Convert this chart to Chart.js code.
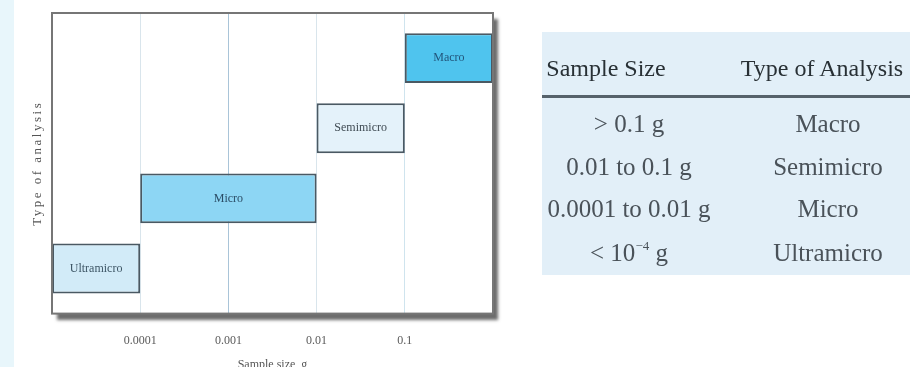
<!DOCTYPE html>
<html>
<head>
<meta charset="utf-8">
<script src="https://cdn.jsdelivr.net/npm/chart.js@4.4.1/dist/chart.umd.min.js"></script>
<style>
  html, body { margin: 0; padding: 0; width: 917px; height: 367px; overflow: hidden; background: #fff; }
  #strip { position: absolute; left: 0; top: 0; width: 14px; height: 367px; background: #e8f6fb; }
  #chartBox { position: absolute; left: 0; top: 0; width: 520px; height: 368px; }
  #sizeTable { position: absolute; left: 542px; top: 32px; width: 368px; height: 243px; background: #e2eff8;
    font-family: "Liberation Serif", serif; }
  #sizeTable .cell { position: absolute; width: 220px; text-align: center; white-space: nowrap; }
  #sizeTable .head { font-size: 24px; line-height: 24px; color: #283035; }
  #sizeTable .row { font-size: 25px; line-height: 25px; color: #4a5259; }
  #sizeTable sup { font-size: 13px; vertical-align: 0; position: relative; top: -11px; }
  #rule { position: absolute; left: 0; top: 63px; width: 368px; height: 3px; background: #56626b; }
</style>
</head>
<body>
<div id="strip"></div>
<div id="chartBox"><canvas id="rangeChart" width="520" height="368"></canvas></div>
<div id="sizeTable"><div id="rule"></div></div>

<script>
// Chart data (log x axis, one floating bar per type of analysis)
const categories = ['Ultramicro', 'Micro', 'Semimicro', 'Macro'];
const rangeStart = [0.00001, 0.0001, 0.01, 0.1];
const rangeEnd = [0.0001, 0.01, 0.1, 1];
const xTicks = [0.0001, 0.001, 0.01, 0.1];
const xTickLabels = ['0.0001', '0.001', '0.01', '0.1'];
const xTitle = 'Sample size, g';
const yTitle = 'Type of analysis';

// Table data
const tableHeaders = ['Sample Size', 'Type of Analysis'];
const sampleSizes = ['&gt; 0.1 g', '0.01 to 0.1 g', '0.0001 to 0.01 g', '&lt; 10<sup>−4</sup> g'];
const analysisTypes = ['Macro', 'Semimicro', 'Micro', 'Ultramicro'];

const barColors = ['#d2ebf8', '#8dd6f4', '#e4f2fa', '#4fc4ee'];
const labelColors = ['#3e5666', '#2b4d66', '#3f4b53', '#22567c'];
const gridColors = ['#d9e5ec', '#a9c4d8', '#d9e5ec', '#cfe4ee'];

// Build the table
const table = document.getElementById('sizeTable');
function addCell(html, cls, center, top) {
  const div = document.createElement('div');
  div.className = 'cell ' + cls;
  div.innerHTML = html;
  div.style.left = (center - 110) + 'px';
  div.style.top = top + 'px';
  table.appendChild(div);
}
addCell(tableHeaders[0], 'head', 64, 24);
addCell(tableHeaders[1], 'head', 280, 24);
const rowTops = [79, 122, 164, 208];
sampleSizes.forEach((s, i) => {
  addCell(s, 'row', 87, rowTops[i]);
  addCell(analysisTypes[i], 'row', 286, rowTops[i]);
});

// Frame with drop shadow around the plot area
const framePlugin = {
  id: 'frame',
  beforeDraw(chart) {
    const { ctx, chartArea: a } = chart;
    ctx.save();
    ctx.shadowColor = 'rgba(60, 60, 60, 0.75)';
    ctx.shadowOffsetX = 5;
    ctx.shadowOffsetY = 6;
    ctx.shadowBlur = 3;
    ctx.fillStyle = '#fff';
    ctx.fillRect(a.left, a.top, a.right - a.left, a.bottom - a.top);
    ctx.restore();
  },
  afterDatasetsDraw(chart) {
    const { ctx, chartArea: a } = chart;
    ctx.save();
    ctx.strokeStyle = '#767676';
    ctx.lineWidth = 2;
    ctx.strokeRect(a.left, a.top, a.right - a.left, a.bottom - a.top);
    ctx.restore();
  }
};

// Names written inside the bars
const barLabelPlugin = {
  id: 'barLabels',
  afterDatasetsDraw(chart) {
    const ctx = chart.ctx;
    const meta = chart.getDatasetMeta(0);
    ctx.save();
    ctx.font = '12px "Liberation Serif"';
    ctx.textAlign = 'center';
    ctx.textBaseline = 'middle';
    meta.data.forEach((bar, i) => {
      const p = bar.getProps(['x', 'y', 'base'], true);
      ctx.fillStyle = labelColors[i];
      ctx.fillText(categories[i], (p.x + p.base) / 2, p.y);
    });
    ctx.restore();
  }
};

// Axis titles (the y one is spaced out, the x one sits at the very bottom edge)
const axisTitlePlugin = {
  id: 'axisTitles',
  afterDraw(chart) {
    const { ctx, chartArea: a } = chart;
    ctx.save();
    ctx.fillStyle = '#555';
    ctx.textAlign = 'center';
    ctx.textBaseline = 'middle';
    ctx.font = '12px "Liberation Serif"';
    ctx.fillText(xTitle, (a.left + a.right) / 2, a.bottom + 51);
    ctx.translate(a.left - 14, (a.top + a.bottom) / 2);
    ctx.rotate(-Math.PI / 2);
    ctx.font = '13px "Liberation Serif"';
    ctx.letterSpacing = '2.5px';
    ctx.fillText(yTitle, 0, 0);
    ctx.restore();
  }
};

const ctx = document.getElementById('rangeChart').getContext('2d');
new Chart(ctx, {
  type: 'bar',
  data: {
    datasets: [{
      data: categories.map((c, i) => ({ x: [rangeStart[i], rangeEnd[i]], y: i })),
      backgroundColor: barColors,
      borderColor: '#4a5963',
      borderWidth: 2,
      borderSkipped: false,
      categoryPercentage: 1,
      barPercentage: 0.71
    }]
  },
  options: {
    indexAxis: 'y',
    responsive: false,
    animation: false,
    layout: { padding: { left: 52, right: 27, top: 13, bottom: 0 } },
    plugins: {
      legend: { display: false },
      tooltip: { enabled: false }
    },
    scales: {
      x: {
        type: 'logarithmic',
        min: 0.00001,
        max: 1,
        afterBuildTicks: scale => {
          scale.ticks = xTicks.map(v => ({ value: v }));
        },
        ticks: {
          callback: (value, index) => xTickLabels[index],
          padding: 20,
          maxRotation: 0,
          autoSkip: false,
          color: '#5a5a5a',
          font: { family: '"Liberation Serif"', size: 12 }
        },
        grid: {
          color: c => gridColors[c.index],
          lineWidth: 1,
          drawTicks: false
        },
        border: { display: false }
      },
      y: {
        type: 'linear',
        min: -0.643,
        max: 3.643,
        offset: false,
        bounds: 'data',
        display: false,
        afterBuildTicks: scale => {
          scale.ticks = categories.map((c, i) => ({ value: i }));
        }
      }
    }
  },
  plugins: [framePlugin, barLabelPlugin, axisTitlePlugin]
});
</script>
</body>
</html>
